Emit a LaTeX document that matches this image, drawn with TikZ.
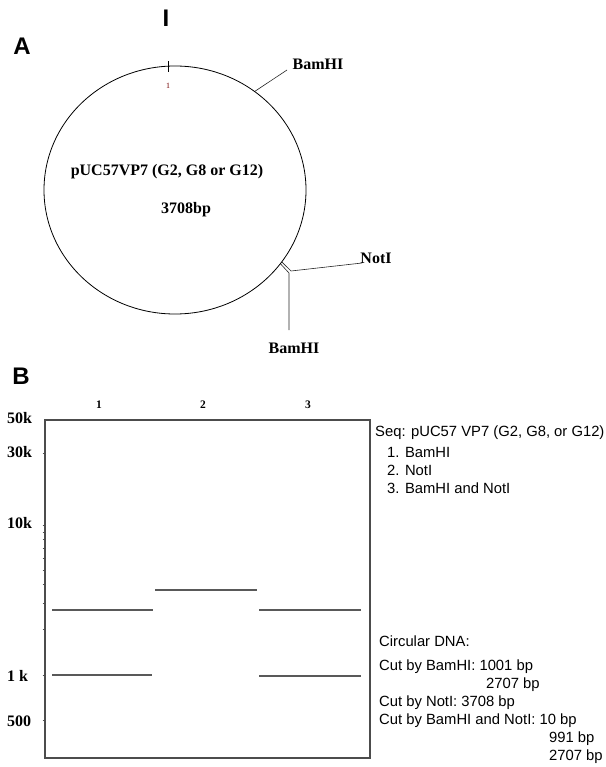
\documentclass[tikz,border=0pt]{standalone}
\usepackage{fontspec}
\setmainfont{Liberation Serif}
\setsansfont{Liberation Sans}
\usetikzlibrary{shapes.geometric}

\begin{document}
\begin{tikzpicture}[x=1pt,y=-1pt]
\tikzstyle{every node}+=[inner sep=0pt]
\tikzset{
  panel/.style={font=\sffamily\bfseries\fontsize{24}{24}\selectfont},
  maplabel/.style={font=\bfseries\fontsize{16}{16}\selectfont},
  lanelabel/.style={font=\bfseries\fontsize{11.5}{11.5}\selectfont},
  sizelabel/.style={font=\bfseries\fontsize{16}{16}\selectfont, anchor=west},
  legend/.style={font=\sffamily\fontsize{14.8}{14.8}\selectfont, anchor=base west},
  siteline/.style={line width=0.6pt, black!85},
  band/.style={line width=1.5pt, black!65},
  gelframe/.style={line width=1.3pt, black!70},
  ladder/.style={line width=0.8pt, black!70}
}
\useasboundingbox (0,0) rectangle (605,767);
\node[panel] (roman) at (166,18.5) {I};
\node[panel] (panA) at (22,46) {A};
\node[panel] (panB) at (21,376) {B};
\node[draw, ellipse, line width=0.8pt, minimum width=262pt, minimum height=248pt] (plasmid) at (175,190) {};
\node[maplabel] (plasname) at (167,171.7) {pUC57VP7 (G2, G8 or G12)};
\node[maplabel] (plaslen) at (186,210) {3708bp};
\node[font=\fontsize{8}{8}\selectfont, red!45!black] (origin) at (168,86) {1};
\node[maplabel] (bamtop) at (318,64) {BamHI};
\node[maplabel] (notlab) at (376,258) {NotI};
\node[maplabel] (bambot) at (294,348) {BamHI};
\coordinate (ticktop) at (168,61.5);
\coordinate (tickbot) at (168,72);
\coordinate (bamtopend) at (287,70);
\coordinate (jb) at (289,273);
\coordinate (jn) at (291,271);
\coordinate (bambotend) at (289,330);
\coordinate (notend) at (362,263);
\draw[line width=0.9pt] (tickbot) -- (ticktop);
\draw[siteline] (plasmid.51.3) -- (bamtopend);
\draw[siteline] (plasmid.-35.7) -- (jb) -- (bambotend);
\draw[siteline] (plasmid.-34.4) -- (jn) -- (notend);
\node[lanelabel] (lane1) at (99,405) {1};
\node[lanelabel] (lane2) at (203,405) {2};
\node[lanelabel] (lane3) at (308,405) {3};
\node[sizelabel] (s50k) at (7,418) {50k};
\node[sizelabel] (s30k) at (7,452.5) {30k};
\node[sizelabel] (s10k) at (7,523) {10k};
\node[sizelabel] (s1k) at (7,676) {1 k};
\node[sizelabel] (s500) at (7,721) {500};
\draw[gelframe] (45,420) rectangle (370,758);
\draw[ladder] (42.5,453.4) -- (45,453.4);
\draw[ladder] (42.5,525) -- (45,525);
\draw[ladder] (42.5,531.9) -- (45,531.9);
\draw[ladder] (42.5,539.5) -- (45,539.5);
\draw[ladder] (42.5,548.2) -- (45,548.2);
\draw[ladder] (42.5,558.2) -- (45,558.2);
\draw[ladder] (42.5,570.1) -- (45,570.1);
\draw[ladder] (42.5,584.6) -- (45,584.6);
\draw[ladder] (42.5,603.4) -- (45,603.4);
\draw[ladder] (42.5,629.8) -- (45,629.8);
\draw[ladder] (42.5,675) -- (45,675);
\draw[ladder] (42.5,720.2) -- (45,720.2);
\draw[band] (52,610) -- (153,610);
\draw[band] (52,675) -- (152,675);
\draw[band] (155,590) -- (257,590);
\draw[band] (259,610) -- (361,610);
\draw[band] (259,676) -- (361,676);
\node[legend] (seq) at (375,436.7) {Seq: pUC57 VP7 (G2, G8, or G12)};
\node[legend] (enz1) at (387,457.7) {1. BamHI};
\node[legend] (enz2) at (387,475.7) {2. NotI};
\node[legend] (enz3) at (387,493.3) {3. BamHI and NotI};
\node[legend] (circ) at (379,646.7) {Circular DNA:};
\node[legend] (cutbam) at (379,670.7) {Cut by BamHI: 1001 bp};
\node[legend] (cutbamb) at (486,688.3) {2707 bp};
\node[legend] (cutnot) at (379,706) {Cut by NotI: 3708 bp};
\node[legend] (cutboth) at (379,724) {Cut by BamHI and NotI: 10 bp};
\node[legend] (cutbothb) at (549,742.3) {991 bp};
\node[legend] (cutbothc) at (549,760) {2707 bp};
\end{tikzpicture}
\end{document}
